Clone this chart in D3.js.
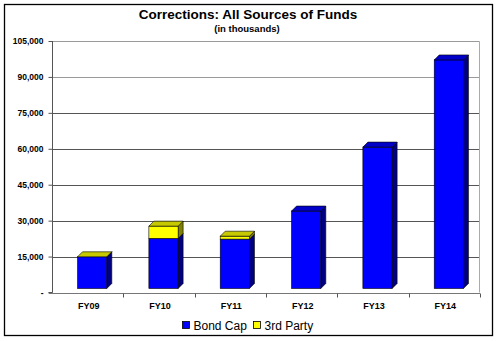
<!DOCTYPE html>
<html><head><meta charset="utf-8">
<script src="https://cdn.jsdelivr.net/npm/d3@7/dist/d3.min.js"></script>
<style>
body{margin:0;padding:0;background:#fff;}
svg{display:block;font-family:"Liberation Sans",Arial,sans-serif;}
</style></head>
<body>
<svg id="chart" width="499" height="341"></svg>
<script>
const categories = ["FY09", "FY10", "FY11", "FY12", "FY13", "FY14"];
const bondCap = [14900, 22600, 22300, 34000, 60700, 97100];
const thirdParty = [0, 5100, 1200, null, null, null];
const yTicks = [0, 15000, 30000, 45000, 60000, 75000, 90000, 105000];
const seriesNames = ["Bond Cap", "3rd Party"];

const svg = d3.select("#chart");
const plotLeft = 52, plotRight = 480, plotTop = 41, plotBottom = 292.5;
const dx = 5, dy = -5, floorOff = 4;

const colors = {
  "Bond Cap": {front: "#0000FF", side: "#000080", top: "#0000C8"},
  "3rd Party": {front: "#FFFF00", side: "#808000", top: "#C8C800"}
};

// outer border
svg.append("rect").attr("x", 4.5).attr("y", 4.5).attr("width", 488).attr("height", 331)
  .attr("fill", "#fff").attr("stroke", "#000").attr("stroke-width", 1.3);

const x = d3.scaleBand().domain(categories).range([plotLeft, plotRight]).padding(0);
const y = d3.scaleLinear().domain([0, 105000]).range([plotBottom, plotTop]);

// gridlines
svg.append("g").selectAll("line").data(yTicks.filter(d => d > 0)).join("line")
  .attr("x1", plotLeft).attr("x2", plotRight - 0.5)
  .attr("y1", d => Math.round(y(d)) + 0.5).attr("y2", d => Math.round(y(d)) + 0.5)
  .attr("stroke", d => (d >= 90000 ? "#9a9a9a" : "#555"))
  .attr("stroke-width", 1);
// right border of plot
svg.append("line").attr("x1", plotRight - 0.5).attr("x2", plotRight - 0.5)
  .attr("y1", Math.round(y(105000)) + 0.5).attr("y2", plotBottom)
  .attr("stroke", "#aaa");

// y axis
const yAxis = d3.axisLeft(y).tickValues(yTicks).tickSize(4).tickPadding(5)
  .tickFormat(d => d === 0 ? "-" : d3.format(",")(d));
const gy = svg.append("g").attr("transform", `translate(${plotLeft + 0.5},0)`).call(yAxis);
gy.select(".domain").attr("stroke", "#555").attr("d", `M-4,${y(0)}H0V${y(105000)}`);
gy.selectAll(".tick line").attr("stroke", "#555");
gy.selectAll(".tick text").attr("font-family", "Liberation Sans, Arial, sans-serif")
  .attr("font-size", 8.5).attr("font-weight", "bold").attr("fill", "#000");

// x axis
const gx = svg.append("g").attr("transform", `translate(0,${Math.round(plotBottom) + 0.5})`);
gx.append("line").attr("x1", plotLeft - 3).attr("x2", plotRight).attr("stroke", "#777");
const bounds = categories.map(c => x(c)).concat([plotRight]);
gx.selectAll("line.tk").data(bounds.slice(1)).join("line").attr("class", "tk")
  .attr("x1", d => Math.round(d) + 0.5).attr("x2", d => Math.round(d) + 0.5)
  .attr("y1", 0).attr("y2", 4).attr("stroke", "#555");
gx.selectAll("text").data(categories).join("text")
  .attr("x", d => x(d) + x.bandwidth() / 2 + 1).attr("y", 15)
  .attr("text-anchor", "middle").attr("font-size", 9).attr("font-weight", "bold")
  .text(d => d);

// bars
const bw = x.bandwidth() * 0.41;
const barsG = svg.append("g");
categories.forEach((c, i) => {
  const x0 = x(c) + x.bandwidth() / 2 + 4.5 - bw / 2;
  const segs = [];
  let cum = 0;
  [bondCap[i], thirdParty[i]].forEach((v, k) => {
    if (v === null || v === undefined) return;
    segs.push({name: seriesNames[k], s0: cum, s1: cum + v});
    cum += v;
  });
  segs.forEach((s, k) => {
    const col = colors[s.name];
    const yb = k === 0 ? y(0) - floorOff : y(s.s0);
    const yt = y(s.s1);
    const h = Math.max(0, yb - yt);
    barsG.append("path")
      .attr("d", `M${x0 + bw},${yb}L${x0 + bw + dx},${yb + dy}L${x0 + bw + dx},${yt + dy}L${x0 + bw},${yt}Z`)
      .attr("fill", col.side).attr("stroke", "#000").attr("stroke-width", 0.6);
    barsG.append("rect").attr("x", x0).attr("y", yt).attr("width", bw).attr("height", h)
      .attr("fill", col.front).attr("stroke", "#000").attr("stroke-width", 0.6);
    if (k === segs.length - 1) {
      barsG.append("path")
        .attr("d", `M${x0},${yt}L${x0 + dx},${yt + dy}L${x0 + bw + dx},${yt + dy}L${x0 + bw},${yt}Z`)
        .attr("fill", col.top).attr("stroke", "#000").attr("stroke-width", 0.6);
    }
  });
});

// title
svg.append("text").attr("x", 248).attr("y", 19).attr("text-anchor", "middle")
  .attr("font-size", 13.5).attr("font-weight", "bold").text("Corrections: All Sources of Funds");
svg.append("text").attr("x", 247).attr("y", 32).attr("text-anchor", "middle")
  .attr("font-size", 9.5).attr("font-weight", "bold").text("(in thousands)");

// legend
const legend = svg.append("g");
const legendX = [182.5, 253.5];
seriesNames.forEach((n, k) => {
  legend.append("rect").attr("x", legendX[k]).attr("y", 321.5).attr("width", 7).attr("height", 7)
    .attr("fill", colors[n].front).attr("stroke", "#000").attr("stroke-width", 0.8);
  legend.append("text").attr("x", legendX[k] + 11).attr("y", 329.5)
    .attr("font-size", 12).text(n);
});
</script>
</body></html>
